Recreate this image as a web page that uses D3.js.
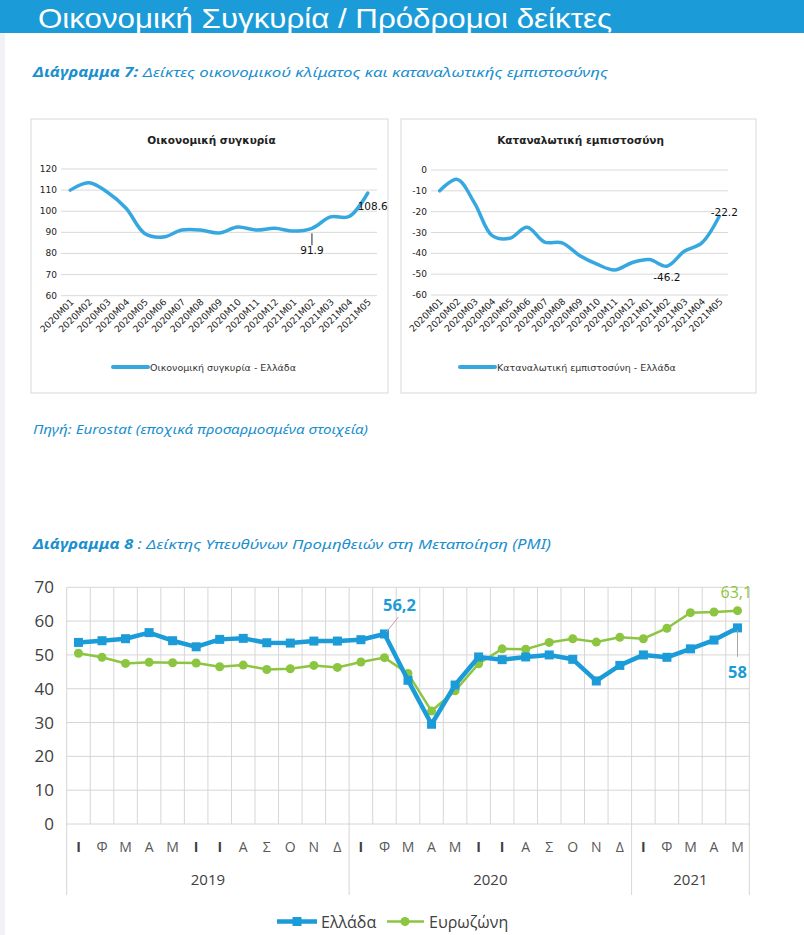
<!DOCTYPE html>
<html>
<head>
<meta charset="utf-8">
<script src="https://cdn.jsdelivr.net/npm/d3@7"></script>
<style>
  body { margin: 0; background: #fff; }
  svg { display: block; }
</style>
</head>
<body>
<div id="page"></div>
<script>
var w = 804;
var h = 935;
var blue = '#1b9bd7';
var lineBlue = '#36a8df';
var green = '#8cc540';
var gridColor = '#d6d6d6';

// chart 7 data
var monthCodes = ['2020M01','2020M02','2020M03','2020M04','2020M05','2020M06','2020M07','2020M08',
  '2020M09','2020M10','2020M11','2020M12','2021M01','2021M02','2021M03','2021M04','2021M05'];
var climateValues = [110.0, 113.5, 109.0, 101.4, 89.5, 87.8, 91.1, 91.1, 89.7, 92.5, 91.1, 91.9, 90.6, 91.9, 97.3, 97.5, 108.6];
var confidenceValues = [-10.0, -4.5, -16.0, -31.5, -32.8, -27.5, -34.6, -35.0, -41.0, -45.2, -48.0, -44.5, -43.0, -46.2, -39.0, -35.0, -22.2];
var climateTicks = [60, 70, 80, 90, 100, 110, 120];
var confidenceTicks = [-60, -50, -40, -30, -20, -10, 0];

// chart 8 data
var monthInitials = ['Ι','Φ','Μ','Α','Μ','Ι','Ι','Α','Σ','Ο','Ν','Δ'];
var years = ['2019', '2020', '2021'];
var monthsPerYear = [12, 12, 5];
var greeceValues = [53.7, 54.2, 54.8, 56.6, 54.2, 52.4, 54.6, 54.9, 53.6, 53.5, 54.1, 54.1,
  54.5, 56.2, 42.5, 29.5, 41.1, 49.4, 48.6, 49.4, 50.0, 48.7, 42.3, 46.9,
  50.0, 49.3, 51.8, 54.4, 58.0];
var euroValues = [50.5, 49.3, 47.5, 47.8, 47.7, 47.6, 46.5, 47.0, 45.7, 45.9, 46.9, 46.3,
  47.9, 49.2, 44.5, 33.4, 39.4, 47.4, 51.8, 51.7, 53.7, 54.8, 53.8, 55.2,
  54.8, 57.9, 62.5, 62.7, 63.1];
var pmiTicks = [0, 10, 20, 30, 40, 50, 60, 70];

var svg = d3.select('#page')
  .append('svg')
  .attr('width', w)
  .attr('height', h);

svg.append('rect')
  .attr('x', 0).attr('y', 0).attr('width', w).attr('height', h)
  .attr('fill', '#fff');

svg.append('rect')
  .attr('x', 0).attr('y', 33).attr('width', 5).attr('height', h - 33)
  .attr('fill', '#f1f2f5');

// header band
svg.append('rect')
  .attr('x', 0).attr('y', 0).attr('width', w).attr('height', 33)
  .attr('fill', '#1b9bd7');

svg.append('text')
  .attr('x', 38).attr('y', 28)
  .attr('font-family', 'Liberation Sans Narrow, Liberation Sans, sans-serif')
  .attr('font-size', 28)
  .attr('fill', '#fff')
  .attr('textLength', 574)
  .attr('lengthAdjust', 'spacingAndGlyphs')
  .text('Οικονομική Συγκυρία / Πρόδρομοι δείκτες');

function
heading(y, bold, rest, len)
{
  var t = svg.append('text')
    .attr('x', 33).attr('y', y)
    .attr('font-family', 'Noto Sans, DejaVu Sans, sans-serif')
    .attr('font-style', 'italic')
    .attr('font-size', 13.5)
    .attr('fill', '#1b8fcf')
    .attr('textLength', len)
    .attr('lengthAdjust', 'spacingAndGlyphs');
  t.append('tspan').attr('font-weight', 'bold').text(bold);
  t.append('tspan').text(rest);
}

heading(77, 'Διάγραμμα 7:', ' Δείκτες οικονομικού κλίματος και καταναλωτικής εμπιστοσύνης', 575);
heading(549, 'Διάγραμμα 8', ' : Δείκτης Υπευθύνων Προμηθειών στη Μεταποίηση (PMI)', 518);

svg.append('text')
  .attr('x', 33).attr('y', 434)
  .attr('font-family', 'Noto Sans, DejaVu Sans, sans-serif')
  .attr('font-style', 'italic')
  .attr('font-size', 12.5)
  .attr('fill', '#1b8fcf')
  .attr('textLength', 335)
  .attr('lengthAdjust', 'spacingAndGlyphs')
  .text('Πηγή: Eurostat (εποχικά προσαρμοσμένα στοιχεία)');

// small smoothed line chart inside a framed box
function
smallChart(box, plot, title, values, ticks, legendText, legendX, notes)
{
  var g = svg.append('g');
  var font = 'DejaVu Sans, Verdana, sans-serif';

  g.append('rect')
    .attr('x', box.x).attr('y', box.y).attr('width', box.w).attr('height', box.h)
    .attr('fill', '#fff').attr('stroke', '#d9d9d9').attr('stroke-width', 1);

  g.append('text')
    .attr('x', box.x + box.w / 2 + 2).attr('y', 144)
    .attr('text-anchor', 'middle')
    .attr('font-family', font).attr('font-size', 10.5).attr('font-weight', 'bold')
    .attr('fill', '#222')
    .text(title);

  var x = d3.scalePoint().domain(monthCodes).range([plot.x0, plot.x1]).padding(0.5);
  var y = d3.scaleLinear().domain(d3.extent(ticks)).range([plot.y1, plot.y0]);

  g.selectAll('line.grid')
    .data(ticks)
    .enter().append('line')
    .attr('x1', plot.x0).attr('x2', plot.x1)
    .attr('y1', function(d) { return y(d); })
    .attr('y2', function(d) { return y(d); })
    .attr('stroke', '#d9d9d9').attr('stroke-width', 1);

  g.selectAll('text.ytick')
    .data(ticks)
    .enter().append('text')
    .attr('x', plot.x0 - 4)
    .attr('y', function(d) { return y(d) + 3; })
    .attr('text-anchor', 'end')
    .attr('font-family', font).attr('font-size', 9)
    .attr('fill', '#222')
    .text(function(d) { return d; });

  g.selectAll('text.xtick')
    .data(monthCodes)
    .enter().append('text')
    .attr('transform', function(d) {
      return 'translate(' + (x(d) + 4) + ',' + (plot.y1 + 7) + ') rotate(-45)';
    })
    .attr('text-anchor', 'end')
    .attr('font-family', font).attr('font-size', 9.2)
    .attr('fill', '#222')
    .text(function(d) { return d; });

  var line = d3.line()
    .x(function(d, i) { return x(monthCodes[i]); })
    .y(function(d) { return y(d); })
    .curve(d3.curveCatmullRom.alpha(0.5));

  g.append('path')
    .attr('d', line(values))
    .attr('fill', 'none')
    .attr('stroke', lineBlue)
    .attr('stroke-width', 3.5)
    .attr('stroke-linecap', 'round');

  notes.forEach(function(n) {
    var px = x(monthCodes[n.i]);
    var py = y(values[n.i]);
    if (n.leader) {
      g.append('line')
        .attr('x1', px).attr('x2', px)
        .attr('y1', py + 5).attr('y2', py + 17)
        .attr('stroke', '#222').attr('stroke-width', 1);
    }
    g.append('text')
      .attr('x', px + n.dx).attr('y', py + n.dy)
      .attr('text-anchor', 'middle')
      .attr('font-family', font).attr('font-size', 10.5)
      .attr('fill', '#111')
      .text(values[n.i]);
  });

  g.append('line')
    .attr('x1', legendX).attr('x2', legendX + 35)
    .attr('y1', 367).attr('y2', 367)
    .attr('stroke', lineBlue).attr('stroke-width', 4)
    .attr('stroke-linecap', 'round');

  g.append('text')
    .attr('x', legendX + 37).attr('y', 370.5)
    .attr('font-family', font).attr('font-size', 9.5)
    .attr('fill', '#333')
    .text(legendText);
}

smallChart({x: 31, y: 119, w: 357, h: 274},
  {x0: 61, x1: 377, y0: 169, y1: 295.7},
  'Οικονομική συγκυρία', climateValues, climateTicks,
  'Οικονομική συγκυρία - Ελλάδα', 113,
  [{i: 13, dx: 0, dy: 26, leader: true}, {i: 16, dx: 5, dy: 17}]);

smallChart({x: 401, y: 119, w: 355, h: 274},
  {x0: 431, x1: 728, y0: 170, y1: 295},
  'Καταναλωτική εμπιστοσύνη', confidenceValues, confidenceTicks,
  'Καταναλωτική εμπιστοσύνη - Ελλάδα', 460,
  [{i: 13, dx: 0, dy: 15}, {i: 16, dx: 5, dy: 0}]);

// PMI chart
var pmiLeft = 66.7;
var pmiRight = 749.3;
var pmiTop = 587.3;
var pmiBottom = 824;
var pmiFont = 'Open Sans, Noto Sans, sans-serif';

var categories = [];
years.forEach(function(yr, k) {
  for (var m = 0; m < monthsPerYear[k]; m ++) {
    categories.push({year: yr, label: monthInitials[m], key: yr + '-' + m});
  }
});

var px = d3.scaleBand()
  .domain(categories.map(function(d) { return d.key; }))
  .range([pmiLeft, pmiRight]);
var bw = px.bandwidth();
var py = d3.scaleLinear().domain([0, 70]).range([pmiBottom, pmiTop]);

function cx(i) { return px(categories[i].key) + bw / 2; }

var pmi = svg.append('g');

pmi.selectAll('line.hgrid')
  .data(pmiTicks)
  .enter().append('line')
  .attr('x1', pmiLeft).attr('x2', pmiRight)
  .attr('y1', function(d) { return py(d); })
  .attr('y2', function(d) { return py(d); })
  .attr('stroke', gridColor).attr('stroke-width', 1);

pmi.selectAll('line.vgrid')
  .data(categories.map(function(d) { return px(d.key); }).concat([pmiRight]))
  .enter().append('line')
  .attr('x1', function(d) { return d; })
  .attr('x2', function(d) { return d; })
  .attr('y1', pmiTop).attr('y2', pmiBottom)
  .attr('stroke', gridColor).attr('stroke-width', 1);

// year group separators below the axis
var yearEdges = [0];
monthsPerYear.forEach(function(n, k) { yearEdges.push(yearEdges[k] + n); });

pmi.selectAll('line.ysep')
  .data(yearEdges)
  .enter().append('line')
  .attr('x1', function(d) { return pmiLeft + d * bw; })
  .attr('x2', function(d) { return pmiLeft + d * bw; })
  .attr('y1', pmiBottom).attr('y2', 895)
  .attr('stroke', gridColor).attr('stroke-width', 1);

pmi.selectAll('text.ytick')
  .data(pmiTicks)
  .enter().append('text')
  .attr('x', 54)
  .attr('y', function(d) { return py(d) + 6; })
  .attr('text-anchor', 'end')
  .attr('font-family', pmiFont).attr('font-size', 17)
  .attr('fill', '#404040')
  .text(function(d) { return d; });

pmi.selectAll('text.month')
  .data(categories)
  .enter().append('text')
  .attr('x', function(d, i) { return cx(i); })
  .attr('y', 852)
  .attr('text-anchor', 'middle')
  .attr('font-family', pmiFont).attr('font-size', 14)
  .attr('font-weight', function(d) { return d.label == 'Ι' ? 'bold' : 'normal'; })
  .attr('fill', function(d) { return d.label == 'Ι' ? '#404040' : '#595959'; })
  .text(function(d) { return d.label; });

pmi.selectAll('text.year')
  .data(years)
  .enter().append('text')
  .attr('x', function(d, k) { return pmiLeft + (yearEdges[k] + yearEdges[k + 1]) / 2 * bw; })
  .attr('y', 885)
  .attr('text-anchor', 'middle')
  .attr('font-family', pmiFont).attr('font-size', 15)
  .attr('fill', '#404040')
  .text(function(d) { return d; });

var pmiLine = d3.line()
  .x(function(d, i) { return cx(i); })
  .y(function(d) { return py(d); });

pmi.append('path')
  .attr('d', pmiLine(euroValues))
  .attr('fill', 'none').attr('stroke', green).attr('stroke-width', 2.5);

pmi.selectAll('circle.euro')
  .data(euroValues)
  .enter().append('circle')
  .attr('cx', function(d, i) { return cx(i); })
  .attr('cy', function(d) { return py(d); })
  .attr('r', 4.5)
  .attr('fill', green);

pmi.append('path')
  .attr('d', pmiLine(greeceValues))
  .attr('fill', 'none').attr('stroke', blue).attr('stroke-width', 4.5)
  .attr('stroke-linejoin', 'round');

pmi.selectAll('rect.gr')
  .data(greeceValues)
  .enter().append('rect')
  .attr('x', function(d, i) { return cx(i) - 4.5; })
  .attr('y', function(d) { return py(d) - 4.5; })
  .attr('width', 9).attr('height', 9)
  .attr('fill', blue);

// data labels
var iPeak = 13;
var iLast = greeceValues.length - 1;

pmi.append('line')
  .attr('x1', cx(iPeak) + 2).attr('y1', py(greeceValues[iPeak]) - 2)
  .attr('x2', cx(iPeak) + 14).attr('y2', py(greeceValues[iPeak]) - 17)
  .attr('stroke', '#c79aa6').attr('stroke-width', 1);

pmi.append('text')
  .attr('x', cx(iPeak) + 15).attr('y', py(greeceValues[iPeak]) - 23)
  .attr('text-anchor', 'middle')
  .attr('font-family', pmiFont).attr('font-size', 16.5).attr('font-weight', 'bold')
  .attr('fill', blue)
  .text(String(greeceValues[iPeak]).replace('.', ','));

pmi.append('line')
  .attr('x1', cx(iLast)).attr('y1', py(greeceValues[iLast]) + 2)
  .attr('x2', cx(iLast)).attr('y2', py(greeceValues[iLast]) + 29)
  .attr('stroke', '#a6a6a6').attr('stroke-width', 1);

pmi.append('text')
  .attr('x', cx(iLast)).attr('y', py(greeceValues[iLast]) + 50)
  .attr('text-anchor', 'middle')
  .attr('font-family', pmiFont).attr('font-size', 16.5).attr('font-weight', 'bold')
  .attr('fill', blue)
  .text(String(greeceValues[iLast]).replace('.', ','));

pmi.append('text')
  .attr('x', cx(iLast) - 17).attr('y', py(euroValues[iLast]) - 13)
  .attr('font-family', pmiFont).attr('font-size', 16)
  .attr('fill', green)
  .text(String(euroValues[iLast]).replace('.', ','));

// legend
var lg = svg.append('g');
lg.append('line')
  .attr('x1', 277).attr('x2', 317).attr('y1', 921.5).attr('y2', 921.5)
  .attr('stroke', blue).attr('stroke-width', 4.5);
lg.append('rect')
  .attr('x', 292.5).attr('y', 917).attr('width', 9).attr('height', 9)
  .attr('fill', blue);
lg.append('text')
  .attr('x', 321).attr('y', 927.5)
  .attr('font-family', pmiFont).attr('font-size', 16)
  .attr('fill', '#404040')
  .text('Ελλάδα');
lg.append('line')
  .attr('x1', 387).attr('x2', 424).attr('y1', 921.5).attr('y2', 921.5)
  .attr('stroke', green).attr('stroke-width', 2.5);
lg.append('circle')
  .attr('cx', 405).attr('cy', 921.5).attr('r', 4.5)
  .attr('fill', green);
lg.append('text')
  .attr('x', 429).attr('y', 927.5)
  .attr('font-family', pmiFont).attr('font-size', 16)
  .attr('fill', '#404040')
  .text('Ευρωζώνη');
</script>
</body>
</html>
